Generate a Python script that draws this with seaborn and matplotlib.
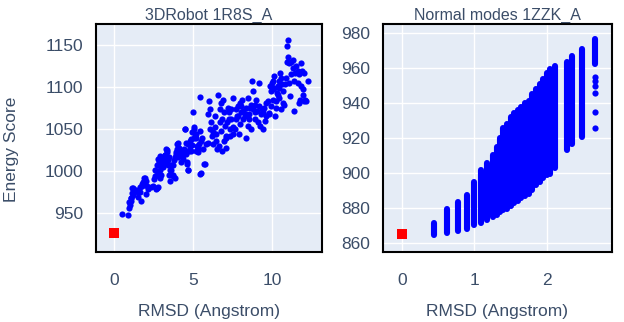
import matplotlib
matplotlib.use("Agg")
import matplotlib.pyplot as plt
import seaborn as sns

# 3DRobot decoys for 1R8S_A (RMSD vs energy score)
left_rmsd = [
    0.48, 0.86, 0.97, 1.0, 1.05, 1.1, 1.18, 1.16, 1.26, 1.39, 1.53, 1.64, 1.7, 1.74, 1.85, 1.95, 2.06, 2.02, 2.16, 2.37, 2.52, 2.65, 2.73, 2.58, 2.79,
    0.95, 1.08, 1.12, 1.22, 1.54, 1.65, 1.75, 1.92, 2.0, 2.49, 2.7, 2.6, 2.8, 2.91, 2.97, 3.06, 3.23, 3.33, 3.48, 3.65, 3.75, 3.86, 3.97, 4.03, 4.18, 4.39, 4.49, 4.6, 4.7, 4.81, 4.96, 5.08, 5.17, 5.3, 5.5, 5.7,
    2.86, 2.9, 3.0, 3.1, 3.2, 3.28, 3.36, 3.42, 3.53, 3.57, 3.63, 3.74, 3.84, 3.95, 3.99, 4.1, 4.16, 4.26, 4.37, 4.47, 4.54, 4.62, 4.68, 4.75, 4.83, 4.9, 4.96, 5.04, 5.1, 5.0, 5.21, 5.32, 5.42, 5.53, 5.74, 5.63,
    5.46, 5.95, 6.0, 6.09, 6.16, 6.22, 6.26, 6.37, 6.43, 6.51, 6.58, 6.68, 6.79, 6.85, 6.89, 6.93, 7.0, 7.06, 7.1, 7.2, 7.27, 7.31, 7.35, 7.42, 7.52, 7.56, 7.69, 7.77,
    7.84, 7.9, 7.98, 8.05, 8.1, 8.15, 8.26, 8.32, 8.36, 8.47, 8.53, 8.61, 8.68, 8.74, 8.82, 8.89, 8.95, 8.99, 9.1, 9.2, 9.24, 9.37, 9.41, 9.45, 9.58, 9.62, 9.73, 9.79,
    9.87, 9.94, 10.0, 10.04, 10.08, 10.15, 10.21, 10.25, 10.29, 10.36, 10.42, 10.46, 10.5, 10.57, 10.63, 10.67, 10.78, 10.88, 10.92, 10.99, 10.95, 11.0, 11.05,
    11.09, 11.13, 11.2, 11.3, 11.34, 11.4, 11.4, 11.47, 11.51, 11.62, 11.68, 11.72, 11.76, 11.83, 11.89, 11.93, 11.97, 12.04, 12.1, 12.14, 12.25, 12.04, 11.83,
    2.69, 2.79, 2.9, 3.0, 3.11, 3.21, 3.32, 3.42, 3.49, 3.63, 3.74, 3.8, 3.91, 4.05, 4.16, 4.26, 4.33, 4.43, 4.54, 4.62, 4.71, 4.79, 4.9, 5.04, 5.17,
    5.25, 5.38, 5.46, 5.59, 5.8, 5.95, 6.09, 6.26, 6.37, 6.47, 6.64, 6.72, 6.79, 6.85, 6.93, 7.1, 7.14, 7.27, 7.42, 7.52, 7.63, 7.73, 7.84, 7.94, 8.05,
    8.19, 8.36, 8.47, 8.57, 8.68, 8.78, 8.89, 9.03, 9.16, 9.31, 9.52, 9.62, 9.83, 9.94, 10.04, 10.15, 10.25, 10.36, 10.46, 10.57, 10.71, 10.84, 11.2, 11.62,
]
left_energy = [
    949, 948, 956, 960, 964.5, 968, 971.5, 980, 975, 977.5, 975, 981, 964.5, 985, 987, 992, 983, 989, 979, 981, 991, 979, 995, 1001, 981,
    964, 968, 974, 980, 970, 976, 982, 992, 973, 982, 980, 994, 1000, 992, 1007, 1013, 1019, 1025, 1017, 1007, 994, 992, 1027, 1033, 1023, 1019, 1050, 1011, 1001, 1025, 1031, 1050, 1039, 1023, 998, 1009,
    1011, 1018, 1007, 1015, 1019, 1026.5, 1022.5, 1013, 1001, 989, 1007, 995, 1017, 1022.5, 1032, 1028, 1019, 1024.5, 1015, 1050, 1034, 1009, 1001, 1024.5, 1030, 1038, 1046, 1052, 1042, 1070, 1024.5, 1028, 997, 1036, 1009, 1026.5,
    1088, 1068, 1083, 1073.5, 1058, 1042, 1032, 1066, 1036, 1026.5, 1091, 1073.5, 1081, 1062, 1085, 1070, 1054, 1040, 1028, 1075.5, 1062, 1050, 1042, 1073.5, 1087, 1052, 1062, 1066,
    1077.5, 1044, 1056, 1070, 1084.5, 1062, 1066, 1040, 1075.5, 1087, 1062, 1075.5, 1050, 1107, 1095, 1070, 1079, 1085, 1058, 1105, 1054, 1073.5, 1050, 1070, 1060, 1081, 1083, 1068,
    1101, 1095, 1105, 1085, 1097, 1113, 1066, 1075.5, 1093, 1101, 1087, 1107, 1117, 1073.5, 1103, 1081, 1079, 1111, 1130, 1156, 1148, 1136, 1128,
    1105, 1089, 1130, 1122.5, 1132, 1107, 1072, 1117, 1124.5, 1105, 1081, 1115, 1085, 1128, 1119, 1091, 1097, 1083, 1085, 1083, 1107, 1117, 1101,
    1007, 1015, 1001, 995, 1005, 1010, 1017, 1007, 995, 1001, 1007, 1013, 1021, 1017, 1024.5, 1011, 1021, 1026.5, 1021, 1024.5, 1032, 1036, 1024.5, 1040, 1044,
    1030, 1032, 1048, 1040, 1032, 1034, 1050, 1046, 1052, 1044, 1030, 1058, 1048, 1024.5, 1036, 1042, 1058, 1070, 1062, 1044, 1050, 1073.5, 1066, 1081, 1077.5,
    1071.5, 1067.5, 1054, 1067.5, 1079, 1073.5, 1062, 1071.5, 1077.5, 1067.5, 1075.5, 1066, 1069.5, 1077.5, 1107, 1099, 1083, 1091, 1099, 1111, 1095, 1103, 1115, 1119,
]
left_native_rmsd = [0]
left_native_energy = [927]

# Normal-mode decoys for 1ZZK_A: each RMSD column spans a range of energies
nm_col_rmsd = [0.45, 0.63, 0.77, 0.90, 1.00, 1.09, 1.17, 1.26, 1.31, 1.36, 1.40, 1.45, 1.50, 1.55, 1.60,
               1.65, 1.70, 1.75, 1.80, 1.85, 1.90, 1.95, 2.00, 2.05, 2.115, 2.275, 2.345, 2.48, 2.665]
nm_col_low = [864.5, 865.5, 866.5, 868, 870, 871.5, 873, 875, 876, 877.5, 878.5, 879.5, 881, 882.5, 884,
              885.5, 887, 888, 890, 893, 895, 897, 899, 899.5, 903, 913, 916.5, 920.5, 962.5]
nm_col_high = [871.5, 879.5, 883.5, 887.5, 895, 901.5, 905.5, 910, 915, 920, 926, 928, 932, 934.5, 936,
               937.5, 940, 941, 945, 948, 951, 954, 957, 959.5, 961.5, 963.5, 967, 971, 976.5]
nm_extra_rmsd = [2.665, 2.665, 2.665, 2.665, 2.665, 2.665]
nm_extra_energy = [950, 952.5, 955, 946, 935, 926]
right_native_rmsd = [0]
right_native_energy = [865]

sns.set_style("darkgrid", {"axes.facecolor": "#E5ECF6", "grid.color": "white"})
plt.rcParams["font.family"] = ["Liberation Sans", "DejaVu Sans"]

text_col = "#3b4d68"
blue = "#0000FF"

fig = plt.figure(figsize=(6.24, 3.22), dpi=100)
ax1 = fig.add_axes([96 / 624, 1 - 252 / 322, 226 / 624, 228 / 322])
ax2 = fig.add_axes([383 / 624, 1 - 252 / 322, 229 / 624, 228 / 322])

sns.scatterplot(x=left_rmsd, y=left_energy, color=blue, s=20, linewidth=0, ax=ax1, zorder=3)
sns.scatterplot(x=left_native_rmsd, y=left_native_energy, color="red", marker="s", s=55,
                linewidth=0, ax=ax1, zorder=3)

ax2.vlines(nm_col_rmsd, nm_col_low, nm_col_high, colors=blue, linewidth=4.4,
           capstyle="round", zorder=3)
sns.scatterplot(x=nm_extra_rmsd, y=nm_extra_energy, color=blue, s=20, linewidth=0, ax=ax2, zorder=3)
sns.scatterplot(x=right_native_rmsd, y=right_native_energy, color="red", marker="s", s=55,
                linewidth=0, ax=ax2, zorder=3)

ax1.set_xlim(-1.14, 13.16)
ax1.set_ylim(904.3, 1174.6)
ax1.set_xticks([0, 5, 10])
ax1.set_yticks([950, 1000, 1050, 1100, 1150])
ax2.set_xlim(-0.26, 2.9)
ax2.set_ylim(854.7, 985.3)
ax2.set_xticks([0, 1, 2])
ax2.set_yticks([860, 880, 900, 920, 940, 960, 980])

for ax, title in [(ax1, "3DRobot 1R8S_A"), (ax2, "Normal modes 1ZZK_A")]:
    for sp in ax.spines.values():
        sp.set_visible(True)
        sp.set_color("black")
        sp.set_linewidth(1.5)
    ax.grid(True, color="white", linewidth=1.0)
    ax.tick_params(axis="both", direction="out", length=6, width=1.1, color="#444444",
                   labelsize=12.5, labelcolor=text_col)
    ax.tick_params(axis="x", pad=9)
    ax.tick_params(axis="y", pad=3)
    ax.set_title(title, fontsize=11.5, color=text_col, pad=3)
    ax.set_xlabel("RMSD (Angstrom)", fontsize=12.5, color=text_col)
    ax.xaxis.set_label_coords(0.5, -0.23)

ax1.set_ylabel("Energy Score", fontsize=12.5, color=text_col)
ax1.yaxis.set_label_coords(-0.34, 0.45)
ax2.set_ylabel("")

fig.savefig("out.png", dpi=100)
